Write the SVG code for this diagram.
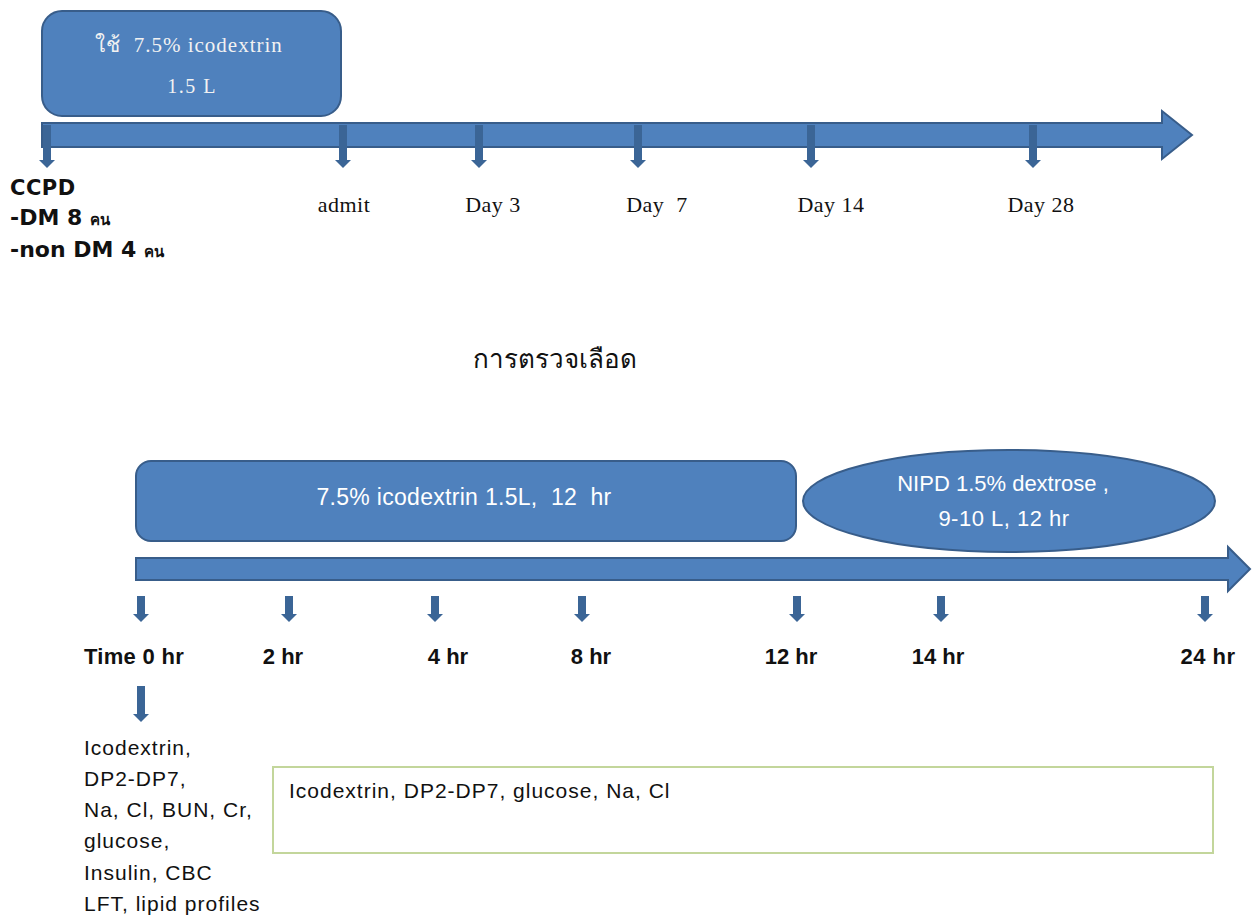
<svg xmlns="http://www.w3.org/2000/svg" width="1256" height="917" viewBox="0 0 1256 917">
<defs>
<style>
.shape{fill:#4F81BD;stroke:#385D8A;stroke-width:2}
.tick{fill:#3B6596;stroke:none}
.serif{font-family:"Liberation Serif","DejaVu Serif",serif;fill:#111}
.wserif{font-family:"Liberation Serif","DejaVu Serif",serif;fill:#f2f2f2}
.sans{font-family:"Liberation Sans","DejaVu Sans",sans-serif;fill:#111}
.dv{font-family:"DejaVu Sans","Liberation Sans",sans-serif;fill:#111}
.wsans{font-family:"Liberation Sans","DejaVu Sans",sans-serif;fill:#fff}
</style>
</defs>
<rect width="1256" height="917" fill="#fff"/>
<g id="connectors">
<path class="shape" d="M42,123 H1162 V111 L1192,135 L1162,159 V147 H42 Z"/>
<path class="shape" d="M136,558 H1228 V547 L1250,569 L1228,591 V580 H136 Z"/>
<path class="tick" d="M43,125 h8 v35 h4 l-8,8 l-8,-8 h4 z"/>
<path class="tick" d="M339,125 h8 v35 h4 l-8,8 l-8,-8 h4 z"/>
<path class="tick" d="M475,125 h8 v35 h4 l-8,8 l-8,-8 h4 z"/>
<path class="tick" d="M634,125 h8 v35 h4 l-8,8 l-8,-8 h4 z"/>
<path class="tick" d="M807,125 h8 v35 h4 l-8,8 l-8,-8 h4 z"/>
<path class="tick" d="M1029,125 h8 v35 h4 l-8,8 l-8,-8 h4 z"/>
<path class="tick" d="M137,596 h8 v18 h4 l-8,8 l-8,-8 h4 z"/>
<path class="tick" d="M285,596 h8 v18 h4 l-8,8 l-8,-8 h4 z"/>
<path class="tick" d="M431,596 h8 v18 h4 l-8,8 l-8,-8 h4 z"/>
<path class="tick" d="M578,596 h8 v18 h4 l-8,8 l-8,-8 h4 z"/>
<path class="tick" d="M793,596 h8 v18 h4 l-8,8 l-8,-8 h4 z"/>
<path class="tick" d="M937,596 h8 v18 h4 l-8,8 l-8,-8 h4 z"/>
<path class="tick" d="M1201,596 h8 v18 h4 l-8,8 l-8,-8 h4 z"/>
<path class="tick" d="M137,686 h8 v28 h4 l-8,8 l-8,-8 h4 z"/>
</g>
<g id="top-box">
<rect class="shape" x="42" y="11" width="299" height="105" rx="20"/>
<text class="wserif" x="189" y="52" font-size="21" letter-spacing="1" text-anchor="middle" xml:space="preserve">ใช้  7.5% icodextrin</text>
<text class="wserif" x="192" y="93" font-size="20" letter-spacing="1.5" text-anchor="middle">1.5 L</text>
</g>
<g id="top-labels">
<text class="dv" x="10" y="195" font-size="21" font-weight="bold" letter-spacing="0.5">CCPD</text>
<text class="dv" x="10" y="225" font-size="22" font-weight="bold">-DM 8 <tspan font-size="15">คน</tspan></text>
<text class="dv" x="10" y="257" font-size="22" font-weight="bold">-non DM 4 <tspan font-size="15">คน</tspan></text>
<text class="serif" x="344" y="212" font-size="22" letter-spacing="0.5" text-anchor="middle">admit</text>
<text class="serif" x="493" y="212" font-size="22" letter-spacing="0.5" text-anchor="middle">Day 3</text>
<text class="serif" x="657" y="212" font-size="22" letter-spacing="0.5" text-anchor="middle" xml:space="preserve">Day  7</text>
<text class="serif" x="831" y="212" font-size="22" letter-spacing="0.5" text-anchor="middle">Day 14</text>
<text class="serif" x="1041" y="212" font-size="22" letter-spacing="0.5" text-anchor="middle">Day 28</text>
</g>
<g id="title">
<text class="serif" x="555" y="368" font-size="26" text-anchor="middle">การตรวจเลือด</text>
</g>
<g id="bottom-box">
<rect class="shape" x="136" y="461" width="660" height="80" rx="15"/>
<text class="wsans" x="464" y="505" font-size="23" letter-spacing="0.3" text-anchor="middle" xml:space="preserve">7.5% icodextrin 1.5L,  12  hr</text>
</g>
<g id="nipd">
<ellipse class="shape" cx="1009" cy="501" rx="206" ry="51"/>
<text class="wsans" x="1003" y="491" font-size="22" text-anchor="middle">NIPD 1.5% dextrose ,</text>
<text class="wsans" x="1004" y="526" font-size="22" letter-spacing="0.5" text-anchor="middle">9-10 L, 12 hr</text>
</g>
<g id="time-labels">
<text class="sans" x="134" y="664" font-size="22" font-weight="bold" letter-spacing="0.3" text-anchor="middle">Time 0 hr</text>
<text class="sans" x="283" y="664" font-size="22" font-weight="bold" text-anchor="middle">2 hr</text>
<text class="sans" x="448" y="664" font-size="22" font-weight="bold" text-anchor="middle">4 hr</text>
<text class="sans" x="591" y="664" font-size="22" font-weight="bold" text-anchor="middle">8 hr</text>
<text class="sans" x="791" y="664" font-size="22" font-weight="bold" text-anchor="middle">12 hr</text>
<text class="sans" x="938" y="664" font-size="22" font-weight="bold" text-anchor="middle">14 hr</text>
<text class="sans" x="1208" y="664" font-size="22" font-weight="bold" letter-spacing="0.5" text-anchor="middle">24 hr</text>
</g>
<g id="baseline-tests">
<text class="sans" x="84" y="755" font-size="21" letter-spacing="1">Icodextrin,</text>
<text class="sans" x="84" y="786" font-size="21" letter-spacing="1">DP2-DP7,</text>
<text class="sans" x="84" y="817" font-size="21" letter-spacing="1">Na, Cl, BUN, Cr,</text>
<text class="sans" x="84" y="848" font-size="21" letter-spacing="1">glucose,</text>
<text class="sans" x="84" y="880" font-size="21" letter-spacing="1">Insulin, CBC</text>
<text class="sans" x="84" y="911" font-size="21" letter-spacing="1">LFT, lipid profiles</text>
</g>
<g id="serial-tests">
<rect x="273" y="767" width="940" height="86" fill="#fff" stroke="#C3D69B" stroke-width="2"/>
<text class="sans" x="289" y="798" font-size="21" letter-spacing="1">Icodextrin, DP2-DP7, glucose, Na, Cl</text>
</g>
</svg>
